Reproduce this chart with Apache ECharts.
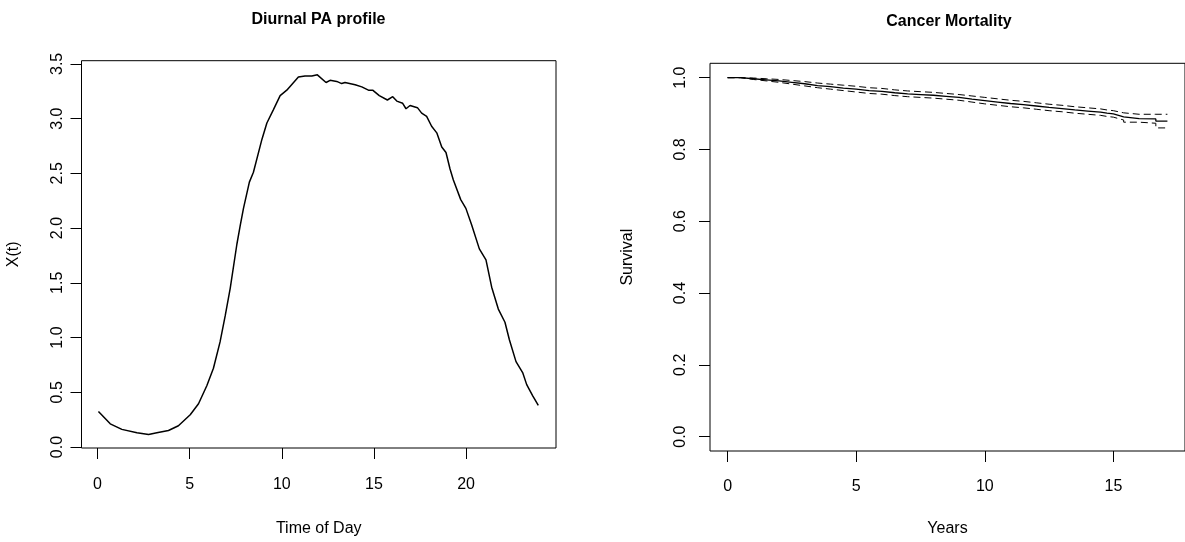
<!DOCTYPE html>
<html>
<head>
<meta charset="utf-8">
<script src="https://cdn.jsdelivr.net/npm/echarts@6/dist/echarts.min.js"></script>
<style>
html,body{margin:0;padding:0;background:#fff;}
#c{width:1185px;height:542px;}
</style>
</head>
<body>
<div id="c"></div>
<script>
// ---- Left panel: Diurnal PA profile ----
const hours = [0.05,0.69,1.32,2.14,2.77,3.22,3.85,4.39,5.03,5.48,5.93,6.29,6.65,6.93,7.20,7.56,7.74,7.92,8.24,8.46,8.92,9.19,9.54,9.91,10.27,10.90,11.26,11.63,11.93,12.40,12.62,12.98,13.25,13.43,13.98,14.34,14.70,14.93,15.29,15.73,16.02,16.24,16.56,16.74,16.96,17.36,17.59,17.86,18.13,18.41,18.68,18.91,19.13,19.31,19.71,19.99,20.30,20.72,21.08,21.39,21.75,22.11,22.35,22.71,23.07,23.29,23.61,23.92];
const pa = [0.325,0.212,0.161,0.130,0.115,0.130,0.151,0.194,0.295,0.395,0.56,0.72,0.96,1.20,1.45,1.85,2.02,2.18,2.42,2.51,2.81,2.96,3.08,3.21,3.26,3.38,3.39,3.39,3.40,3.33,3.35,3.34,3.32,3.33,3.31,3.29,3.26,3.26,3.21,3.17,3.20,3.16,3.14,3.09,3.12,3.10,3.05,3.02,2.93,2.87,2.74,2.69,2.54,2.44,2.26,2.18,2.03,1.81,1.71,1.46,1.26,1.14,0.98,0.78,0.68,0.57,0.47,0.38];
const paXTicks = [0,5,10,15,20];
const paYTicks = [0,0.5,1,1.5,2,2.5,3,3.5];

// ---- Right panel: Cancer Mortality (Kaplan-Meier) ----
const years = [0,0.5,1,1.5,2,2.5,3,3.5,4,4.5,5,5.5,6,6.5,7,7.5,8,8.5,9,9.5,10,10.5,11,11.5,12,12.5,13,13.5,14,14.5,14.75,15.0,15.2,15.4,16.0,16.65,17.1];
const surv  = [1.000,0.997,0.994,0.991,0.987,0.983,0.978,0.975,0.971,0.968,0.964,0.962,0.958,0.955,0.953,0.951,0.948,0.945,0.940,0.936,0.932,0.928,0.925,0.921,0.917,0.914,0.910,0.907,0.904,0.901,0.899,0.895,0.891,0.886,0.885,0.879,0.879];
const upper = [1.000,0.999,0.997,0.995,0.992,0.989,0.985,0.982,0.979,0.976,0.972,0.970,0.966,0.963,0.961,0.959,0.956,0.953,0.949,0.945,0.941,0.937,0.934,0.930,0.926,0.923,0.919,0.916,0.913,0.910,0.908,0.905,0.902,0.898,0.898,0.898,0.898];
const lower = [1.000,0.995,0.991,0.987,0.982,0.977,0.972,0.968,0.964,0.960,0.956,0.954,0.950,0.947,0.945,0.943,0.940,0.937,0.932,0.927,0.923,0.919,0.916,0.912,0.908,0.905,0.901,0.898,0.895,0.892,0.890,0.886,0.882,0.876,0.873,0.860,0.860];
const kmXTicks = [0,5,10,15];
const kmYTicks = [0,0.2,0.4,0.6,0.8,1.0];

const FONT = '"Liberation Sans", Arial, Helvetica, sans-serif';
const chart = echarts.init(document.getElementById('c'), null, {renderer:'canvas'});

function fmt1(v){ return (Math.round(v*10)/10).toFixed(1); }

const axisLabelBase = {color:'#000', fontFamily:FONT, fontSize:16};
function tick(vals){ return {show:true, length:11, inside:false, customValues:vals, lineStyle:{color:'#000', width:1}}; }
const noLine = {show:false, onZero:false};
const nameStyle = {color:'#000', fontFamily:FONT, fontSize:16};

const option = {
  backgroundColor:'#fff',
  animation:false,
  title:[
    {text:'Diurnal PA profile', left:318.5, top:12, textAlign:'center', padding:0,
     textStyle:{fontFamily:FONT, fontWeight:'bold', fontSize:16, color:'#000'}},
    {text:'Cancer Mortality', left:949, top:14, textAlign:'center', padding:0,
     textStyle:{fontFamily:FONT, fontWeight:'bold', fontSize:16, color:'#000'}}
  ],
  grid:[
    {left:81.5, top:60.7, width:474.5, height:392, show:true, borderColor:'#000', borderWidth:1, backgroundColor:'transparent'},
    {left:710, top:63.3, width:477.7, height:390.7, show:true, borderColor:'#000', borderWidth:1, backgroundColor:'transparent'}
  ],
  xAxis:[
    {type:'value', gridIndex:0, min:-0.87, max:24.88,
     name:'Time of Day', nameLocation:'middle', nameGap:73, nameTextStyle:nameStyle,
     axisLine:noLine, splitLine:{show:false}, axisTick:tick(paXTicks),
     axisLabel:Object.assign({customValues:paXTicks, margin:29}, axisLabelBase)},
    {type:'value', gridIndex:1, min:-0.684, max:17.784,
     name:'Years', nameLocation:'middle', nameGap:70, nameTextStyle:nameStyle,
     axisLine:noLine, splitLine:{show:false}, axisTick:tick(kmXTicks),
     axisLabel:Object.assign({customValues:kmXTicks, margin:28}, axisLabelBase)}
  ],
  yAxis:[
    {type:'value', gridIndex:0, min:-0.009, max:3.529,
     name:'X(t)', nameLocation:'middle', nameGap:60, nameTextStyle:nameStyle,
     axisLine:noLine, splitLine:{show:false}, axisTick:tick(paYTicks),
     axisLabel:Object.assign({customValues:paYTicks, margin:16, rotate:90, formatter:fmt1}, axisLabelBase)},
    {type:'value', gridIndex:1, min:-0.04, max:1.04,
     name:'Survival', nameLocation:'middle', nameGap:74, nameTextStyle:nameStyle,
     axisLine:noLine, splitLine:{show:false}, axisTick:tick(kmYTicks),
     axisLabel:Object.assign({customValues:kmYTicks, margin:21, rotate:90, formatter:fmt1}, axisLabelBase)}
  ],
  series:[
    {type:'line', xAxisIndex:0, yAxisIndex:0, showSymbol:false, symbol:'none',
     data:hours.map((h,i)=>[h,pa[i]]), lineStyle:{color:'#000', width:1.5}},
    {type:'line', xAxisIndex:1, yAxisIndex:1, showSymbol:false, symbol:'none', step:'end',
     data:years.map((t,i)=>[t,surv[i]]), lineStyle:{color:'#000', width:1.3}},
    {type:'line', xAxisIndex:1, yAxisIndex:1, showSymbol:false, symbol:'none', step:'end',
     data:years.map((t,i)=>[t,upper[i]]), lineStyle:{color:'#000', width:1, type:[7,4]}},
    {type:'line', xAxisIndex:1, yAxisIndex:1, showSymbol:false, symbol:'none', step:'end',
     data:years.map((t,i)=>[t,lower[i]]), lineStyle:{color:'#000', width:1, type:[7,4]}}
  ]
};
chart.setOption(option);
</script>
</body>
</html>
